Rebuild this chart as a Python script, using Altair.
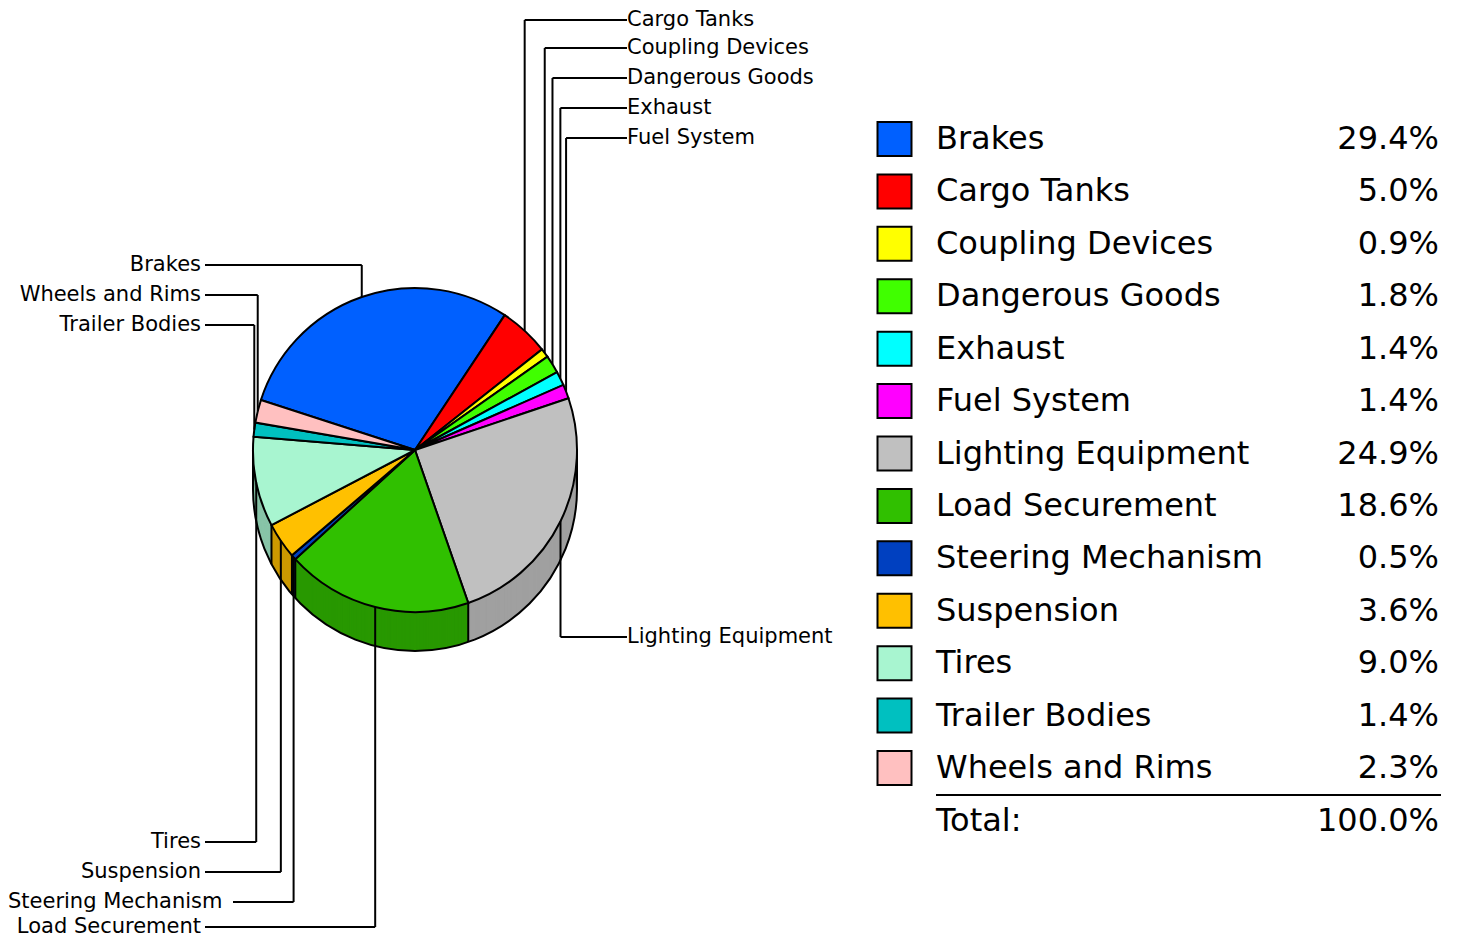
import math
import altair as alt
import pandas as pd

# ---------------- data ----------------
names = ["Brakes", "Cargo Tanks", "Coupling Devices", "Dangerous Goods", "Exhaust",
         "Fuel System", "Lighting Equipment", "Load Securement", "Steering Mechanism",
         "Suspension", "Tires", "Trailer Bodies", "Wheels and Rims"]
values = [29.4, 5.0, 0.9, 1.8, 1.4, 1.4, 24.9, 18.6, 0.5, 3.6, 9.0, 1.4, 2.3]
pct_labels = ["29.4%", "5.0%", "0.9%", "1.8%", "1.4%", "1.4%", "24.9%", "18.6%",
              "0.5%", "3.6%", "9.0%", "1.4%", "2.3%"]
total_label = "100.0%"

top_colors = ["#0060FF", "#FF0000", "#FFFF00", "#40FF00", "#00FFFF", "#FF00FF",
              "#C0C0C0", "#30C000", "#0040C0", "#FFC000", "#A8F5D0", "#00C0C0", "#FFC0C0"]
side_colors = ["#0048C0", "#C00000", "#C0C000", "#30C000", "#00C0C0", "#C000C0",
               "#A0A0A0", "#289800", "#003090", "#CC9900", "#88C4A8", "#009090", "#C09090"]

# ---------------- layout (page pixels) ----------------
OFF = 8
label_y_page = [265, 20, 48, 78, 108, 138, 637, 927, 902, 872, 842, 325, 295]
label_x_page = [201, 627, 627, 627, 627, 627, 627, 201, 8, 201, 201, 201, 201]
label_align = ["right", "left", "left", "left", "left", "left", "left",
               "right", "left", "right", "right", "right", "right"]
line_end_page = [205, 627, 627, 627, 627, 627, 627, 205, 233, 205, 205, 205, 205]

CX = 415 - OFF
CY = 450 - OFF
R = 162
DEPTH = 39
A0 = -0.4 * math.pi          # start angle of first slice
TOTAL = sum(values)
edge_signs = [-1, 1]

FONT = "DejaVu Sans"
LABEL_SIZE = 21
LEG_SIZE = 32
LW = 2

df = pd.DataFrame({
    "name": names,
    "value": values,
    "pct": pct_labels,
    "sidecol": side_colors,
    "lab_y": [v - OFF for v in label_y_page],
    "lab_x": [v - OFF for v in label_x_page],
    "anchor": label_align,
    "line_end": [v - OFF for v in line_end_page],
})
df["end"] = df["value"].cumsum()
df["start"] = df["end"] - df["value"]

theta_scale = alt.Scale(domain=[0, TOTAL], range=[A0 + 2 * math.pi, A0 + 4 * math.pi])
color_scale = alt.Scale(domain=names, range=top_colors)
theta_enc = alt.Theta("start:Q", scale=theta_scale)

base = alt.Chart(df)

# ---------------- pie side (stacked copies, deepest drawn first) ----------------
side_layers = [
    base.mark_arc(outerRadius=R).encode(
        theta=theta_enc,
        theta2="end:Q",
        x=alt.value(CX),
        y=alt.value(CY + d),
        fill=alt.Fill("sidecol:N", scale=None),
    )
    for d in range(DEPTH, 0, -1)
]

bottom_outline = alt.Chart(pd.DataFrame({"k": [0]})).mark_arc(
    outerRadius=R, theta=0, theta2=2 * math.pi, fillOpacity=0,
    stroke="black", strokeWidth=LW
).encode(x=alt.value(CX), y=alt.value(CY + DEPTH))

edge_rules = base.transform_calculate(
    ang=f"{A0} + datum.start / {TOTAL} * 2 * PI"
).transform_calculate(
    ex=f"{CX} + {R} * sin(datum.ang)",
    ey=f"{CY} - {R} * cos(datum.ang)",
).transform_calculate(
    ey2=f"datum.ey + {DEPTH}"
).transform_filter("cos(datum.ang) < 0").mark_rule(color="black", strokeWidth=LW).encode(
    x=alt.X("ex:Q", scale=None, axis=None),
    y=alt.Y("ey:Q", scale=None, axis=None),
    y2="ey2:Q",
)

sil_rules = alt.Chart(pd.DataFrame({"s": edge_signs})).transform_calculate(
    sx=f"{CX} + datum.s * {R}", sy=f"{CY}", sy2=f"{CY + DEPTH}"
).mark_rule(color="black", strokeWidth=LW).encode(
    x=alt.X("sx:Q", scale=None, axis=None),
    y=alt.Y("sy:Q", scale=None, axis=None),
    y2="sy2:Q",
)

# ---------------- pie top ----------------
top = base.mark_arc(outerRadius=R, stroke="black", strokeWidth=LW).encode(
    theta=theta_enc,
    theta2="end:Q",
    x=alt.value(CX),
    y=alt.value(CY),
    color=alt.Color("name:N", scale=color_scale, legend=None),
)

# ---------------- leader lines ----------------
lead_base = base.transform_calculate(
    ang=f"{A0} + (datum.start + datum.value / 2) / {TOTAL} * 2 * PI"
).transform_calculate(
    vx=f"{CX} + {R} * sin(datum.ang)",
    vy=f"{CY} - {R} * cos(datum.ang)",
)
lead_v = lead_base.mark_rule(color="black", strokeWidth=LW).encode(
    x=alt.X("vx:Q", scale=None, axis=None),
    y=alt.Y("vy:Q", scale=None, axis=None),
    y2="lab_y:Q",
)
lead_h = lead_base.mark_rule(color="black", strokeWidth=LW).encode(
    x=alt.X("vx:Q", scale=None, axis=None),
    x2="line_end:Q",
    y=alt.Y("lab_y:Q", scale=None, axis=None),
)

lab_left = base.transform_filter("datum.anchor == 'left'").mark_text(
    align="left", baseline="middle", font=FONT, fontSize=LABEL_SIZE, color="black"
).encode(
    x=alt.X("lab_x:Q", scale=None, axis=None),
    y=alt.Y("lab_y:Q", scale=None, axis=None),
    text="name:N",
)
lab_right = base.transform_filter("datum.anchor == 'right'").mark_text(
    align="right", baseline="middle", font=FONT, fontSize=LABEL_SIZE, color="black"
).encode(
    x=alt.X("lab_x:Q", scale=None, axis=None),
    y=alt.Y("lab_y:Q", scale=None, axis=None),
    text="name:N",
)

# ---------------- legend table ----------------
row_scale = alt.Scale(type="point", domain=names, range=[139 - OFF, 768 - OFF], padding=0)

leg_sw = base.mark_square(size=34 * 34, stroke="black", strokeWidth=LW, opacity=1).encode(
    x=alt.value(894.5 - OFF),
    y=alt.Y("name:N", scale=row_scale, axis=None),
    color=alt.Color("name:N", scale=color_scale, legend=None),
)
leg_name = base.mark_text(
    align="left", baseline="middle", font=FONT, fontSize=LEG_SIZE, color="black"
).encode(
    x=alt.value(936 - OFF),
    y=alt.Y("name:N", scale=row_scale, axis=None),
    text="name:N",
)
leg_pct = base.mark_text(
    align="right", baseline="middle", font=FONT, fontSize=LEG_SIZE, color="black"
).encode(
    x=alt.value(1439 - OFF),
    y=alt.Y("name:N", scale=row_scale, axis=None),
    text="pct:N",
)

one = pd.DataFrame({"label": ["Total:"], "total": [total_label]})
sep = alt.Chart(one).mark_rule(color="black", strokeWidth=LW).encode(
    x=alt.value(936 - OFF), x2=alt.value(1441 - OFF), y=alt.value(795 - OFF)
)
tot_lab = alt.Chart(one).mark_text(
    align="left", baseline="middle", font=FONT, fontSize=LEG_SIZE, color="black"
).encode(x=alt.value(936 - OFF), y=alt.value(821 - OFF), text="label:N")
tot_val = alt.Chart(one).mark_text(
    align="right", baseline="middle", font=FONT, fontSize=LEG_SIZE, color="black"
).encode(x=alt.value(1439 - OFF), y=alt.value(821 - OFF), text="total:N")

chart = alt.layer(
    *side_layers, bottom_outline, edge_rules, sil_rules, top,
    lead_v, lead_h, lab_left, lab_right,
    leg_sw, leg_name, leg_pct, sep, tot_lab, tot_val,
).properties(
    width=1441, height=929, autosize="none", padding=0, background="white"
).configure_view(strokeWidth=0)

chart.save("out.html", embed_options={"renderer": "svg", "actions": False})
